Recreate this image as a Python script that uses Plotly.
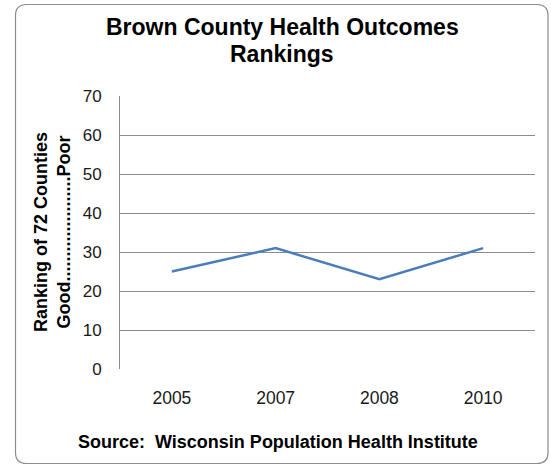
import plotly.graph_objects as go

years = ["2005", "2007", "2008", "2010"]
rankings = [25, 31, 23, 31]
y_ticks = [0, 10, 20, 30, 40, 50, 60, 70]

W, H = 551, 468
L, R, T, B = 120, 16, 95.7, 98.7
pw, ph = W - L - R, H - T - B
FONT = "Liberation Sans, Arial, sans-serif"

def px(x):
    return (x - L) / pw

def py(y):
    return (H - B - y) / ph

fig = go.Figure()
fig.add_trace(go.Scatter(x=years, y=rankings, mode="lines",
                         line=dict(color="#4A7EBB", width=2.5), showlegend=False,
                         hoverinfo="skip"))

# rounded border
x0, x1, y0, y1, r = 15.5, 548, 4, 464, 11
path = (f"M {px(x0+r)},{py(y0)} L {px(x1-r)},{py(y0)} Q {px(x1)},{py(y0)} {px(x1)},{py(y0+r)} "
        f"L {px(x1)},{py(y1-r)} Q {px(x1)},{py(y1)} {px(x1-r)},{py(y1)} "
        f"L {px(x0+r)},{py(y1)} Q {px(x0)},{py(y1)} {px(x0)},{py(y1-r)} "
        f"L {px(x0)},{py(y0+r)} Q {px(x0)},{py(y0)} {px(x0+r)},{py(y0)} Z")
fig.add_shape(type="path", path=path, xref="paper", yref="paper",
              line=dict(color="#8C8C8C", width=1.2), layer="below")

title_font = dict(size=23, color="black", family=FONT)
fig.add_annotation(text="<b>Brown County Health Outcomes</b>", xref="paper", yref="paper",
                   x=px(282), y=py(27), xanchor="center", yanchor="middle",
                   showarrow=False, font=title_font)
fig.add_annotation(text="<b>Rankings</b>", xref="paper", yref="paper",
                   x=px(282), y=py(54), xanchor="center", yanchor="middle",
                   showarrow=False, font=title_font)
fig.add_annotation(text="<b>Ranking of 72 Counties<br>Good.....................Poor</b>",
                   xref="paper", yref="paper", x=px(52.5), y=py(232.5),
                   xanchor="center", yanchor="middle", textangle=-90,
                   showarrow=False, font=dict(size=18, color="black", family=FONT))
fig.add_annotation(text="<b>Source:  Wisconsin Population Health Institute</b>",
                   xref="paper", yref="paper", x=px(277.7), y=py(442),
                   xanchor="center", yanchor="middle",
                   showarrow=False, font=dict(size=18, color="black", family=FONT))

fig.update_layout(
    width=W, height=H,
    margin=dict(l=L, r=R, t=T, b=B),
    paper_bgcolor="white", plot_bgcolor="white",
    font=dict(family=FONT, size=17, color="black"),
    xaxis=dict(type="category", showgrid=False, showline=False, ticks="",
               tickfont=dict(size=17.5, color="#1a1a1a"), range=[-0.5, 3.5],
               ticklabelstandoff=16),
    yaxis=dict(range=[0, 70], tickvals=y_ticks, showgrid=True,
               gridcolor="#8C8C8C", gridwidth=1, showline=True,
               linecolor="#8C8C8C", linewidth=1, ticks="",
               zeroline=False, tickfont=dict(size=17, color="#1a1a1a"),
               ticklabelstandoff=14),
)
fig.write_html("out.html", config={"displayModeBar": False},
               post_script="document.body.style.margin='0';document.body.style.overflow='hidden';")
